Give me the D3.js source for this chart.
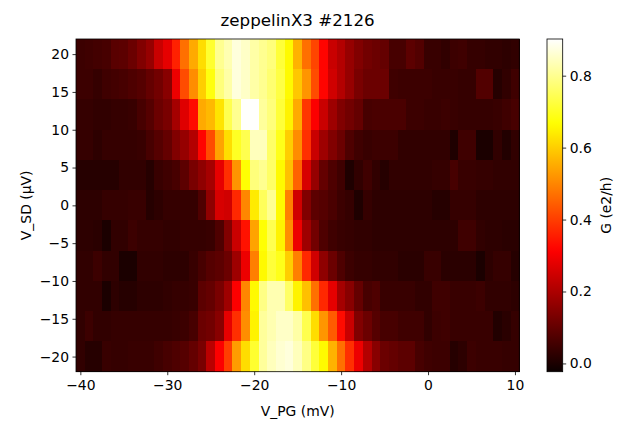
<!DOCTYPE html>
<html>
<head>
<meta charset="utf-8">
<script src="https://cdn.jsdelivr.net/npm/d3@7"></script>
<style>
  html, body { margin: 0; padding: 0; background: #fff; }
  svg { display: block; }
  text { font-family: "DejaVu Sans", sans-serif; fill: #000; }
</style>
</head>
<body>
<svg id="chart" width="621" height="427"></svg>
<script>
// Plunger-gate voltage (mV), one column per value
const vPG = [-40,-39,-38,-37,-36,-35,-34,-33,-32,-31,-30,-29,-28,-27,-26,-25,-24,-23,-22,-21,-20,
             -19,-18,-17,-16,-15,-14,-13,-12,-11,-10,-9,-8,-7,-6,-5,-4,-3,-2,-1,0,
             1,2,3,4,5,6,7,8,9,10];
// Source-drain bias (µV), one row per value, top to bottom
const vSD = [20, 16, 12, 8, 4, 0, -4, -8, -12, -16, -20];

// Conductance G (e2/h) for each bias row, across vPG
const gSD_p20 = [0.045,0.05,0.055,0.06,0.085,0.09,0.11,0.14,0.17,0.24,0.28,0.36,0.47,0.55,0.62,0.71,0.80,
  0.83,0.87,0.85,0.82,0.80,0.78,0.72,0.66,0.56,0.47,0.41,0.32,0.24,0.21,0.17,0.14,0.12,
  0.11,0.10,0.06,0.06,0.09,0.075,0.04,0.04,0.03,0.045,0.05,0.035,0.035,0.03,0.03,0.025,0.03];
const gSD_p16 = [0.045,0.045,0.035,0.05,0.055,0.06,0.07,0.08,0.10,0.12,0.15,0.29,0.42,0.51,0.60,0.68,0.78,
  0.82,0.87,0.85,0.82,0.80,0.77,0.73,0.66,0.59,0.52,0.42,0.32,0.25,0.21,0.17,0.13,0.11,
  0.11,0.11,0.05,0.045,0.045,0.045,0.045,0.04,0.04,0.04,0.035,0.035,0.075,0.075,0.015,0.03,0.05];
const gSD_p12 = [0.035,0.035,0.03,0.03,0.035,0.035,0.04,0.06,0.08,0.11,0.13,0.19,0.27,0.33,0.55,0.57,0.63,
  0.74,0.80,0.90,0.90,0.81,0.78,0.72,0.65,0.55,0.39,0.31,0.24,0.18,0.14,0.12,0.10,0.06,
  0.065,0.065,0.065,0.065,0.045,0.045,0.04,0.04,0.045,0.04,0.035,0.035,0.035,0.035,0.04,0.05,0.06];
const gSD_p8 = [0.035,0.035,0.025,0.035,0.035,0.035,0.035,0.04,0.06,0.08,0.10,0.14,0.17,0.21,0.32,0.42,0.54,
  0.62,0.70,0.74,0.84,0.84,0.76,0.69,0.60,0.51,0.38,0.24,0.18,0.14,0.11,0.07,0.05,0.04,
  0.045,0.045,0.045,0.03,0.03,0.03,0.03,0.03,0.03,0.005,0.05,0.05,0.0,0.0,0.03,0.01,0.03];
const gSD_p4 = [0.015,0.015,0.015,0.015,0.015,0.03,0.03,0.03,0.015,0.04,0.05,0.06,0.09,0.13,0.16,0.19,0.28,
  0.38,0.52,0.67,0.78,0.80,0.76,0.66,0.58,0.45,0.26,0.17,0.10,0.07,0.05,0.005,0.03,0.05,
  0.03,0.015,0.03,0.03,0.03,0.03,0.03,0.035,0.035,0.06,0.04,0.04,0.035,0.035,0.03,0.03,0.03];
const gSD_0 = [0.025,0.025,0.025,0.035,0.035,0.035,0.04,0.04,0.015,0.025,0.035,0.035,0.035,0.035,0.07,0.16,0.26,
  0.25,0.37,0.50,0.64,0.75,0.80,0.66,0.49,0.25,0.14,0.09,0.08,0.065,0.045,0.035,0.005,0.035,
  0.025,0.025,0.025,0.025,0.025,0.025,0.025,0.015,0.015,0.035,0.035,0.035,0.025,0.025,0.025,0.025,0.025];
const gSD_m4 = [0.025,0.025,0.02,0.0,0.03,0.03,0.045,0.035,0.035,0.035,0.03,0.03,0.035,0.035,0.035,0.04,0.07,
  0.14,0.24,0.34,0.54,0.67,0.74,0.65,0.51,0.29,0.18,0.12,0.07,0.05,0.04,0.035,0.03,0.03,
  0.025,0.025,0.025,0.025,0.025,0.025,0.025,0.025,0.025,0.025,0.05,0.05,0.03,0.025,0.025,0.02,0.02];
const gSD_m8 = [0.03,0.03,0.045,0.03,0.03,0.0,0.0,0.03,0.03,0.03,0.025,0.025,0.025,0.04,0.06,0.08,0.09,
  0.11,0.18,0.29,0.49,0.66,0.72,0.69,0.60,0.49,0.37,0.25,0.16,0.11,0.07,0.045,0.035,0.035,
  0.03,0.03,0.03,0.02,0.02,0.02,0.04,0.04,0.02,0.02,0.02,0.02,0.0,0.025,0.035,0.035,0.015];
const gSD_m12 = [0.03,0.03,0.03,0.0,0.025,0.015,0.015,0.025,0.025,0.025,0.03,0.035,0.035,0.04,0.09,0.10,0.13,
  0.18,0.31,0.50,0.66,0.79,0.83,0.83,0.76,0.65,0.58,0.47,0.37,0.28,0.19,0.15,0.10,0.06,
  0.07,0.04,0.04,0.04,0.04,0.03,0.03,0.05,0.05,0.04,0.04,0.04,0.045,0.03,0.03,0.03,0.025];
const gSD_m16 = [0.03,0.045,0.03,0.03,0.035,0.035,0.035,0.035,0.035,0.035,0.035,0.04,0.045,0.06,0.11,0.12,0.15,
  0.28,0.38,0.51,0.65,0.81,0.83,0.85,0.85,0.82,0.74,0.62,0.52,0.44,0.33,0.24,0.14,0.11,
  0.08,0.06,0.06,0.05,0.05,0.05,0.03,0.045,0.05,0.04,0.04,0.04,0.04,0.04,0.01,0.02,0.035];
const gSD_m20 = [0.03,0.015,0.015,0.04,0.035,0.035,0.04,0.04,0.04,0.05,0.06,0.07,0.08,0.10,0.13,0.22,0.31,
  0.40,0.53,0.62,0.71,0.81,0.84,0.86,0.87,0.84,0.79,0.72,0.66,0.56,0.47,0.38,0.29,0.21,
  0.15,0.11,0.10,0.09,0.09,0.06,0.05,0.045,0.045,0.015,0.025,0.045,0.04,0.04,0.04,0.035,0.035];

const conductanceRows = [gSD_p20, gSD_p16, gSD_p12, gSD_p8, gSD_p4, gSD_0,
                         gSD_m4, gSD_m8, gSD_m12, gSD_m16, gSD_m20];

const xTicks = [-40, -30, -20, -10, 0, 10];
const yTicks = [-20, -15, -10, -5, 0, 5, 10, 15, 20];
const cbTicks = [0.0, 0.2, 0.4, 0.6, 0.8];
const colorRange = [-0.023, 0.902];

const titleText = "zeppelinX3 #2126";
const xLabel = "V_PG (mV)";
const yLabel = "V_SD (\u00b5V)";
const cbLabel = "G (e2/h)";

// "hot" colour map: black -> red -> yellow -> white
function hot(t) {
  t = Math.max(0, Math.min(1, t));
  const a = 0.365079, b = 0.746032;
  const r = t < a ? 0.0416 + (1 - 0.0416) * t / a : 1;
  const g = t < a ? 0 : (t < b ? (t - a) / (b - a) : 1);
  const bl = t < b ? 0 : (t - b) / (1 - b);
  return d3.rgb(r * 255, g * 255, bl * 255).toString();
}
const norm = d3.scaleLinear().domain(colorRange).range([0, 1]).clamp(true);
const colorOf = v => hot(norm(v));

const svg = d3.select("#chart");
const plot = { left: 76, right: 519.3, top: 39, bottom: 371.7 };
const dx = vPG[1] - vPG[0];
const dy = vSD[0] - vSD[1];

const x = d3.scaleLinear()
  .domain([d3.min(vPG) - dx / 2, d3.max(vPG) + dx / 2])
  .range([plot.left, plot.right]);
const y = d3.scaleLinear()
  .domain([d3.min(vSD) - dy / 2, d3.max(vSD) + dy / 2])
  .range([plot.bottom, plot.top]);

// Heat-map cells
const cells = [];
conductanceRows.forEach((row, i) => {
  row.forEach((g, j) => cells.push({ vpg: vPG[j], vsd: vSD[i], g }));
});
svg.append("g")
  .attr("shape-rendering", "crispEdges")
  .selectAll("rect")
  .data(cells)
  .join("rect")
  .attr("x", d => x(d.vpg - dx / 2))
  .attr("y", d => y(d.vsd + dy / 2))
  .attr("width", d => x(d.vpg + dx / 2) - x(d.vpg - dx / 2) + 0.3)
  .attr("height", d => y(d.vsd - dy / 2) - y(d.vsd + dy / 2) + 0.3)
  .attr("fill", d => colorOf(d.g));

// Axes frame
svg.append("rect")
  .attr("x", plot.left).attr("y", plot.top)
  .attr("width", plot.right - plot.left).attr("height", plot.bottom - plot.top)
  .attr("fill", "none").attr("stroke", "#000").attr("stroke-width", 0.8);

const fmt = v => (v < 0 ? "\u2212" + Math.abs(v) : String(v));
const tickFont = 13.9;

const xAxis = d3.axisBottom(x).tickValues(xTicks).tickSize(3.5).tickPadding(3.5).tickFormat(fmt);
const gx = svg.append("g").attr("transform", `translate(0,${plot.bottom})`).call(xAxis);
const yAxis = d3.axisLeft(y).tickValues(yTicks).tickSize(3.5).tickPadding(3.5).tickFormat(fmt);
const gy = svg.append("g").attr("transform", `translate(${plot.left},0)`).call(yAxis);
[gx, gy].forEach(g => {
  g.select(".domain").remove();
  g.selectAll(".tick line").attr("stroke", "#000").attr("stroke-width", 0.8);
  g.selectAll(".tick text").attr("font-size", tickFont).attr("font-family", "DejaVu Sans").attr("fill", "#000");
});
gx.selectAll(".tick text").attr("dy", "0.82em");

// Title and axis labels
svg.append("text").attr("x", (plot.left + plot.right) / 2).attr("y", 25.5)
  .attr("text-anchor", "middle").attr("font-size", 16.7).text(titleText);
svg.append("text").attr("x", (plot.left + plot.right) / 2).attr("y", 416)
  .attr("text-anchor", "middle").attr("font-size", tickFont).text(xLabel);
svg.append("text")
  .attr("transform", `translate(30.5,${(plot.top + plot.bottom) / 2}) rotate(-90)`)
  .attr("text-anchor", "middle").attr("font-size", tickFont).text(yLabel);

// Colour bar
const cb = { left: 547, right: 562.7, top: plot.top, bottom: plot.bottom };
const cy = d3.scaleLinear().domain(colorRange).range([cb.bottom, cb.top]);
const grad = svg.append("defs").append("linearGradient")
  .attr("id", "hotGrad").attr("x1", 0).attr("y1", 1).attr("x2", 0).attr("y2", 0);
d3.range(0, 1.0001, 1 / 64).forEach(t => {
  grad.append("stop").attr("offset", t).attr("stop-color", hot(t));
});
svg.append("rect")
  .attr("x", cb.left).attr("y", cb.top)
  .attr("width", cb.right - cb.left).attr("height", cb.bottom - cb.top)
  .attr("fill", "url(#hotGrad)")
  .attr("stroke", "#000").attr("stroke-width", 0.8);
const cAxis = d3.axisRight(cy).tickValues(cbTicks).tickSize(3.5).tickPadding(3.5).tickFormat(d3.format(".1f"));
const gc = svg.append("g").attr("transform", `translate(${cb.right},0)`).call(cAxis);
gc.select(".domain").remove();
gc.selectAll(".tick line").attr("stroke", "#000").attr("stroke-width", 0.8);
gc.selectAll(".tick text").attr("font-size", tickFont).attr("font-family", "DejaVu Sans").attr("fill", "#000");
svg.append("text")
  .attr("transform", `translate(611,${(cb.top + cb.bottom) / 2}) rotate(-90)`)
  .attr("text-anchor", "middle").attr("font-size", tickFont).text(cbLabel);
</script>
</body>
</html>
